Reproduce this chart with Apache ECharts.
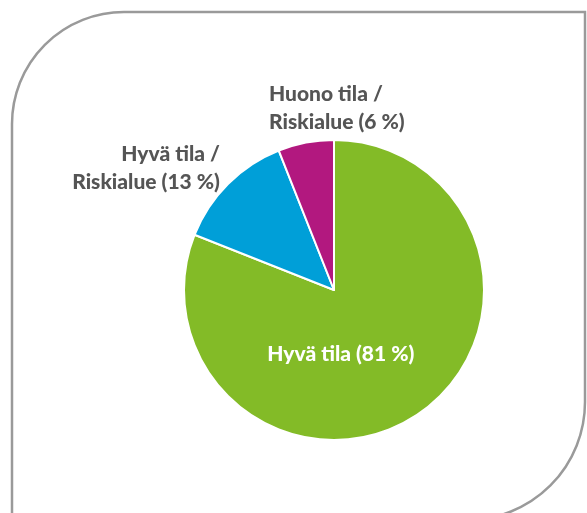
<!DOCTYPE html>
<html>
<head>
<meta charset="utf-8">
<script src="https://cdn.jsdelivr.net/npm/echarts@6/dist/echarts.min.js"></script>
<style>
    html, body {
        margin: 0;
        padding: 0;
        background: #fff;
    }

    #chart {
        width: 587px;
        height: 513px;
    }
</style>
</head>
<body>
<div id="chart"></div>
<script>
// kuntoluokat ja osuudet (%)
const categories = ['Hyvä tila', 'Hyvä tila /\nRiskialue', 'Huono tila /\nRiskialue']
const shares = [81, 13, 6]
const colors = ['#83bb27', '#009fd8', '#b2187f']

// tekstien hienosäätö viipaleittain
const labelShift = [
    {dx: -37, dy: 0},
    {dx: 12, dy: -23},
    {dx: -30, dy: -25, align: 'left'}
]

const chart = echarts.init(document.getElementById('chart'))

const options = {
    animation: false,
    graphic: [
        {
            // kehys: pyöristetty vasen ylä- ja oikea alakulma
            type: 'rect',
            shape: {x: 12, y: 12, width: 573, height: 508, r: [112, 0, 118, 0]},
            style: {fill: 'none', stroke: '#9a9a9a', lineWidth: 2.5},
            silent: true
        }
    ],
    series: [
        {
            type: 'pie',
            center: [334, 290],
            radius: [0, 150],
            startAngle: 90,
            clockwise: true,
            itemStyle: {
                borderColor: '#fff',
                borderWidth: 2
            },
            label: {
                show: true,
                position: 'outside',
                fontFamily: 'Lato',
                fontWeight: 900,
                fontSize: 21,
                lineHeight: 28,
                color: '#555555',
                formatter: (p) => p.name + ' (' + p.value + ' %)'
            },
            labelLine: {show: false, length: 10, length2: 0},
            labelLayout: (p) => labelShift[p.dataIndex],
            data: categories.map((name, i) => ({
                name: name,
                value: shares[i],
                itemStyle: {color: colors[i]},
                label: i === 0 ? {position: 'inside', color: '#fff'} : undefined
            }))
        }
    ]
}

chart.setOption(options)
</script>
</body>
</html>
